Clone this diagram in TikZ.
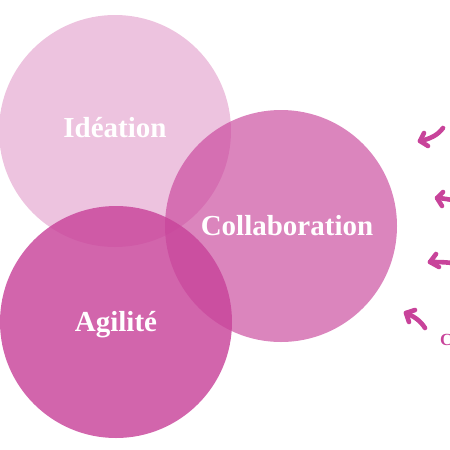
\documentclass[tikz,border=0pt]{standalone}
\usepackage{fontspec}
\setmainfont{Liberation Serif}
\definecolor{mag}{HTML}{C8439A}
\begin{document}
\begin{tikzpicture}[x=1pt,y=-1pt,
  bubble/.style={circle,fill=mag,inner sep=0pt,minimum size=232pt},
  label/.style={text=white,font=\bfseries\fontsize{29}{33}\selectfont},
  arr/.style={draw=mag,line width=4.6pt,line cap=round,line join=round}]
\useasboundingbox (0,0) rectangle (450,450);
\begin{scope}
\clip (0,0) rectangle (450,450);
\node[bubble,fill opacity=0.32] (ide) at (115,131) {};
\node[bubble,fill opacity=0.65] (col) at (281,226) {};
\node[bubble,fill opacity=0.82] (agi) at (116,322) {};
\node[label] (tide) at (115,128) {Idéation};
\node[label] (tcol) at (287,226) {Collaboration};
\node[label] (tagi) at (116,325) {Agilité};
% arrows
\draw[arr] (443,128) .. controls (438,135) and (430,139) .. (420,141);
\draw[arr] (424,133) -- (420,141) -- (428,146);
\draw[arr] (452,200) .. controls (446,199) and (441,198) .. (437,198);
\draw[arr] (443,192) -- (437,198) -- (442,206);
\draw[arr] (452,263) .. controls (444,262) and (436,262) .. (430,262);
\draw[arr] (436,254) -- (430,262) -- (439,267);
\draw[arr] (425,328) .. controls (420,320) and (413,316) .. (406,313);
\draw[arr] (415,310) -- (406,313) -- (409,322);
\node[text=mag,font=\bfseries\fontsize{17}{19}\selectfont,anchor=base west,inner sep=0pt] (tc) at (440,345) {C};
\end{scope}
\end{tikzpicture}
\end{document}
